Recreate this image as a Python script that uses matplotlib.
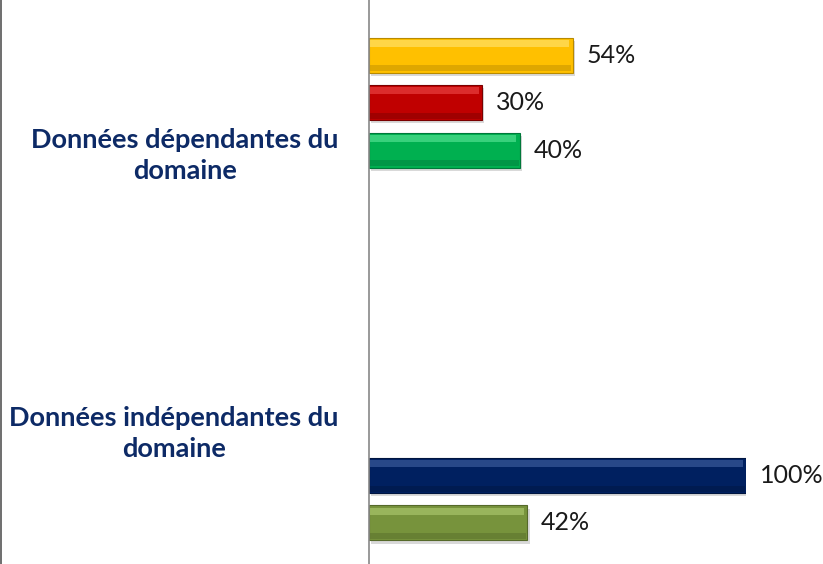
import matplotlib.pyplot as plt
from matplotlib.lines import Line2D
import numpy as np

# données du graphique
categories = ["Données dépendantes du\ndomaine", "Données indépendantes du\ndomaine"]
n_series = 5
# (catégorie, série, valeur)
bars = [(0, 0, 0.54), (0, 1, 0.30), (0, 2, 0.40), (1, 3, 1.00), (1, 4, 0.42)]
colors = ["#FFC000", "#C00000", "#00B050", "#002060", "#77933C"]
dark = ["#B88A00", "#7A0000", "#00783A", "#001540", "#55692A"]
light = ["#FFE066", "#E84040", "#50E090", "#3A5A9A", "#A8C46A"]

plt.rcParams['font.family'] = ['Lato', 'DejaVu Sans']

fig = plt.figure(figsize=(8.23, 5.64), dpi=100)
ax = fig.add_axes([369 / 823, 0, (746 - 369) / 823, 1])

step = 0.171
h = 0.126
for cat, s, val in bars:
    y = cat + (s - 2) * step
    # ombre
    ax.barh(y + 0.012, val, height=h, left=0.006, color="#000000", alpha=0.15, zorder=1)
    # barre principale
    ax.barh(y, val, height=h, color=colors[s], edgecolor=dark[s], linewidth=0.8, zorder=2)
    # reflet en haut
    ax.barh(y - h * 0.33, val - 0.012, height=h * 0.2, left=0.003, color=light[s],
            linewidth=0, zorder=3, alpha=0.7)
    # bord bas plus sombre
    ax.barh(y + h * 0.38, val - 0.006, height=h * 0.18, left=0.003, color=dark[s],
            linewidth=0, zorder=3, alpha=0.45)
    ax.annotate(f"{val * 100:.0f}%", (val, y), xytext=(10, 0), textcoords="offset points",
                va="center", ha="left", fontsize=18, color="#1a1a1a", annotation_clip=False)

ax.set_xlim(0, 1.0)
ax.set_ylim(1.49, -0.54)
ax.set_yticks(range(len(categories)))
ax.set_yticklabels(categories, fontsize=19.5, fontweight="bold", color="#0D2A66")
for t in ax.get_yticklabels():
    t.set_multialignment("center")
    t.set_linespacing(1.35)
ax.tick_params(axis="y", length=0, pad=22)
ax.set_xticks([])
for side in ["top", "right", "bottom"]:
    ax.spines[side].set_visible(False)
ax.spines["left"].set_color("#888888")
ax.spines["left"].set_linewidth(1.2)
ax.patch.set_alpha(0)

fig.add_artist(Line2D([0.0015, 0.0015], [0, 1], color="#555555", linewidth=1.2))

fig.savefig("out.png", dpi=100)
